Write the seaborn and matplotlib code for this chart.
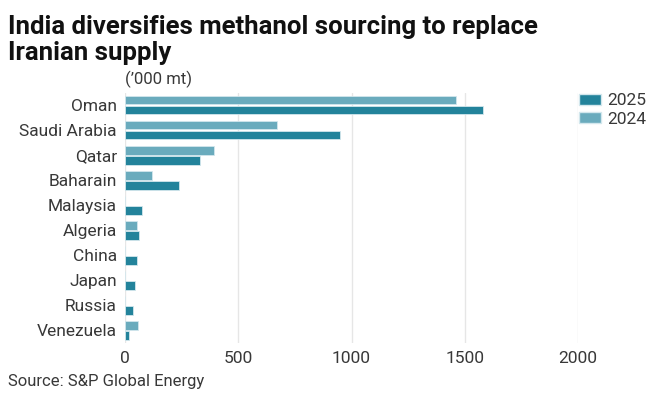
import pandas as pd
import matplotlib.pyplot as plt
import seaborn as sns
from matplotlib.patches import Patch

# Data ('000 mt)
countries = ["Oman", "Saudi Arabia", "Qatar", "Baharain", "Malaysia",
             "Algeria", "China", "Japan", "Russia", "Venezuela"]
vals_2024 = [1460, 672, 392, 116, 0, 52, 0, 0, 0, 55]
vals_2025 = [1582, 947, 330, 239, 74, 62, 50, 43, 33, 16]
years = ["2024", "2025"]
colors = {"2024": "#6aabbd", "2025": "#23839b"}
xticks = [0, 500, 1000, 1500, 2000]

df = pd.DataFrame({
    "Country": countries * 2,
    "Year": ["2024"] * len(countries) + ["2025"] * len(countries),
    "Volume": vals_2024 + vals_2025,
})

sns.set_theme(style="white")
plt.rcParams["font.family"] = ["Roboto", "DejaVu Sans"]

fig = plt.figure(figsize=(6.62, 3.97), dpi=100)
ax = fig.add_axes([0.1893, 0.136, 0.6834, 0.631])

sns.barplot(data=df, y="Country", x="Volume", hue="Year", hue_order=years,
            palette=colors, order=countries, orient="h", width=0.8, gap=0.12,
            saturation=1, edgecolor="#d3e7ed", linewidth=0.6, legend=False, ax=ax)

ax.set_xlim(0, 2000)
ax.set_xticks(xticks)
ax.set_xticklabels([str(t) for t in xticks])
ax.grid(axis="x", color="#e6e6e6", linewidth=1)
ax.set_axisbelow(True)
for s in ax.spines.values():
    s.set_visible(False)
ax.tick_params(axis="both", length=0, labelsize=12.5, labelcolor="#383838")
ax.tick_params(axis="y", pad=6)
ax.tick_params(axis="x", pad=6)
ax.set_xlabel("")
ax.set_ylabel("")

handles = [Patch(facecolor=colors["2025"], edgecolor="#d3e7ed", label="2025"),
           Patch(facecolor=colors["2024"], edgecolor="#d3e7ed", label="2024")]
leg = fig.legend(handles=handles, loc="upper left", bbox_to_anchor=(0.875, 0.765),
                 frameon=False, fontsize=12.5, handlelength=1.25, handleheight=0.6,
                 handletextpad=0.35, labelspacing=0.2, borderpad=0,
                 borderaxespad=0)
for t in leg.get_texts():
    t.set_color("#383838")

fig.text(0.012, 0.962, "India diversifies methanol sourcing to replace\nIranian supply",
         ha="left", va="top", fontsize=18.5, fontweight="bold", color="#111111",
         linespacing=1.1)
fig.text(0.1893, 0.778, "(\u2019000 mt)", ha="left", va="bottom", fontsize=12,
         color="#383838")
fig.text(0.012, 0.02, "Source: S&P Global Energy", ha="left", va="bottom",
         fontsize=12, color="#383838")

fig.savefig("out.png", dpi=100)
